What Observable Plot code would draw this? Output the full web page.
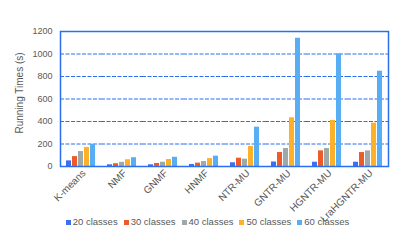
<!DOCTYPE html>
<html><head><meta charset="utf-8">
<script src="https://cdn.jsdelivr.net/npm/d3@7"></script>
<script src="https://cdn.jsdelivr.net/npm/@observablehq/plot@0.6"></script>
<style>
body{margin:0;background:#fff;font-family:"Liberation Sans",Arial,sans-serif;}
#chart svg{overflow:visible !important;position:relative;z-index:1;}
#legend{display:flex;justify-content:center;height:24px;line-height:24px;font-size:9.5px;color:#595959;padding-left:14px;}
#legend span.item{display:inline-flex;align-items:center;margin-right:6px;}
#legend span.sw{display:inline-block;width:5px;height:5px;margin-right:2px;}
</style></head>
<body><div id="chart"></div><div id="legend"></div>
<script>
const methods = ["K-means","NMF","GNMF","HNMF","NTR-MU","GNTR-MU","HGNTR-MU","LraHGNTR-MU"];
const seriesNames = ["20 classes","30 classes","40 classes","50 classes","60 classes"];
const c20 = [50, 15, 15, 18, 33, 40, 38, 38];
const c30 = [88, 25, 27, 30, 74, 124, 139, 124];
const c40 = [133, 37, 38, 44, 65, 160, 160, 139];
const c50 = [170, 60, 62, 70, 178, 433, 409, 385];
const c60 = [197, 78, 82, 92, 350, 1140, 1002, 847];
const colors = ["#3d6ff2","#ee5a2a","#a0a9aa","#fdb12a","#58aef4"];
const yTicks = [0,200,400,600,800,1000,1200];
const yLabel = "Running Times (s)";
const gridColor = "#2b6ef0";

const cols = [c20,c30,c40,c50,c60];
const data = [];
methods.forEach((m,i)=>seriesNames.forEach((s,j)=>data.push({method:m, series:s, value:cols[j][i]})));

const chart = Plot.plot({
  width: 407, height: 210,
  marginTop: 31, marginBottom: 44, marginLeft: 58, marginRight: 18,
  style: {fontFamily: "Liberation Sans, Arial, sans-serif", fontSize: "9px", color: "#595959", background: "transparent", overflow: "visible"},
  fx: {domain: methods, padding: 0, label: null, axis: null},
  x: {domain: seriesNames, axis: null, paddingInner: 0.16, paddingOuter: 0.83},
  y: {domain: [0,1200], label: null},
  color: {domain: seriesNames, range: colors},
  marks: [
    Plot.axisY({ticks: yTicks, tickFormat: d => String(d), tickSize: 0, tickPadding: 8, label: null, fill: "#595959", fontSize: 9}),
    Plot.ruleY(yTicks.slice(1,-1), {stroke: gridColor, strokeDasharray: "4,1.5", strokeWidth: 1}),
    Plot.barY(data, {fx: "method", x: "series", y: "value", fill: "series"}),
    Plot.frame({facet: "super", stroke: gridColor, strokeWidth: 1.5}),
    Plot.text(methods, {fx: d => d, text: d => d, frameAnchor: "bottom", rotate: -45, textAnchor: "end", lineAnchor: "middle", dx: 3, dy: 5, fill: "#595959", fontSize: 10}),
    Plot.text([yLabel], {facet: "super", frameAnchor: "left", rotate: -90, textAnchor: "middle", dx: -41, dy: -6, text: d => d, fill: "#595959", fontSize: 10})
  ]
});
document.getElementById("chart").appendChild(chart);

const lg = document.getElementById("legend");
seriesNames.forEach((s,j)=>{
  const it = document.createElement("span"); it.className="item";
  const sw = document.createElement("span"); sw.className="sw"; sw.style.background=colors[j];
  it.appendChild(sw); it.appendChild(document.createTextNode(s)); lg.appendChild(it);
});
</script></body></html>
